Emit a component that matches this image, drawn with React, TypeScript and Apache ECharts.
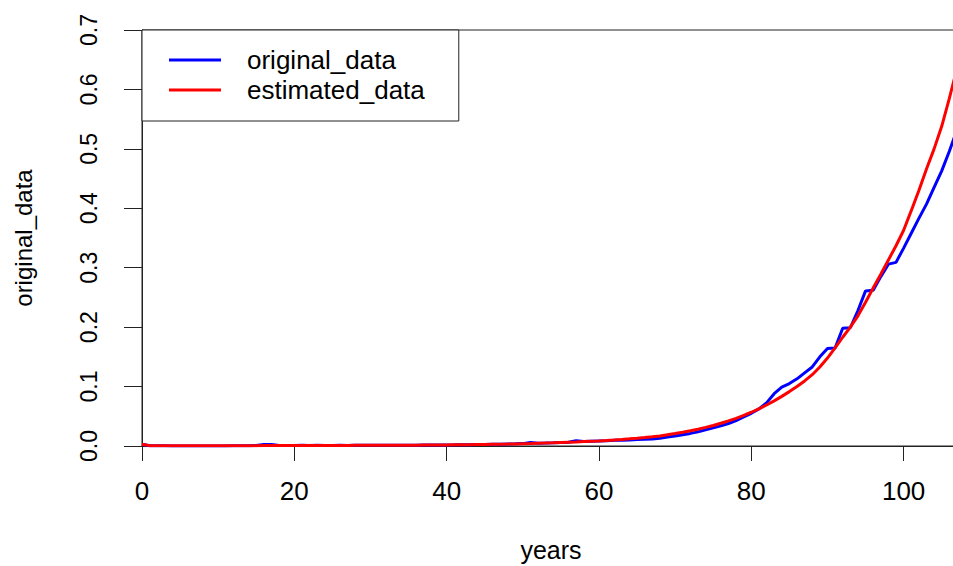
import React, { useEffect, useRef } from "react";
import * as echarts from "echarts";

const ages = [
  0, 1, 2, 3, 4, 5, 6, 7, 8, 9,
  10, 11, 12, 13, 14, 15, 16, 17, 18, 19,
  20, 21, 22, 23, 24, 25, 26, 27, 28, 29,
  30, 31, 32, 33, 34, 35, 36, 37, 38, 39,
  40, 41, 42, 43, 44, 45, 46, 47, 48, 49,
  50, 51, 52, 53, 54, 55, 56, 57, 58, 59,
  60, 61, 62, 63, 64, 65, 66, 67, 68, 69,
  70, 71, 72, 73, 74, 75, 76, 77, 78, 79,
  80, 81, 82, 83, 84, 85, 86, 87, 88, 89,
  90, 91, 92, 93, 94, 95, 96, 97, 98, 99,
  100, 101, 102, 103, 104, 105, 106, 107, 108, 109, 110,
];

const originalData = [
  0.0030, 0.0005, 0.0004, 0.0003, 0.0002, 0.0002, 0.0002, 0.0002, 0.0002, 0.0002,
  0.0002, 0.0002, 0.0003, 0.0004, 0.0005, 0.0008, 0.0026, 0.0026, 0.0009, 0.0010,
  0.0010, 0.0011, 0.0010, 0.0011, 0.0010, 0.0010, 0.0011, 0.0010, 0.0011, 0.0011,
  0.0011, 0.0012, 0.0012, 0.0012, 0.0013, 0.0014, 0.0014, 0.0015, 0.0016, 0.0017,
  0.0018, 0.0019, 0.0021, 0.0022, 0.0024, 0.0026, 0.0028, 0.0030, 0.0033, 0.0036,
  0.0040, 0.0058, 0.0046, 0.0049, 0.0053, 0.0058, 0.0063, 0.0088, 0.0074, 0.0079,
  0.0084, 0.0088, 0.0095, 0.0098, 0.0103, 0.0108, 0.0112, 0.0118, 0.0130, 0.0150,
  0.0168, 0.0190, 0.0212, 0.0238, 0.0272, 0.0305, 0.0338, 0.0378, 0.0428, 0.0488,
  0.0550, 0.0625, 0.0725, 0.0880, 0.0990, 0.1050, 0.1130, 0.1230, 0.1330, 0.1500,
  0.1640, 0.1650, 0.1980, 0.1990, 0.2280, 0.2610, 0.2620, 0.2850, 0.3060, 0.3090,
  0.3330, 0.3580, 0.3830, 0.4070, 0.4350, 0.4630, 0.4960, 0.5320, 0.5650, 0.6000, 0.6400,
];

const estimatedData = [
  0.0030, 0.0006, 0.0004, 0.0003, 0.0003, 0.0003, 0.0003, 0.0003, 0.0003, 0.0003,
  0.0003, 0.0003, 0.0004, 0.0004, 0.0005, 0.0006, 0.0007, 0.0008, 0.0009, 0.0009,
  0.0010, 0.0010, 0.0010, 0.0010, 0.0010, 0.0010, 0.0010, 0.0010, 0.0011, 0.0011,
  0.0011, 0.0011, 0.0012, 0.0012, 0.0013, 0.0013, 0.0014, 0.0015, 0.0016, 0.0017,
  0.0018, 0.0019, 0.0020, 0.0022, 0.0024, 0.0026, 0.0028, 0.0030, 0.0032, 0.0035,
  0.0038, 0.0041, 0.0045, 0.0049, 0.0053, 0.0058, 0.0063, 0.0068, 0.0074, 0.0080,
  0.0086, 0.0093, 0.0101, 0.0110, 0.0120, 0.0131, 0.0143, 0.0156, 0.0170, 0.0190,
  0.0210, 0.0232, 0.0256, 0.0283, 0.0313, 0.0346, 0.0382, 0.0422, 0.0466, 0.0515,
  0.0568, 0.0626, 0.0690, 0.0760, 0.0835, 0.0915, 0.1000, 0.1095, 0.1200, 0.1330,
  0.1480, 0.1650, 0.1830, 0.2000, 0.2190, 0.2420, 0.2660, 0.2890, 0.3130, 0.3370,
  0.3630, 0.3960, 0.4300, 0.4660, 0.5000, 0.5380, 0.5850, 0.6350, 0.6800, 0.7250, 0.7700,
];

const yTickLabels = ["0.0", "0.1", "0.2", "0.3", "0.4", "0.5", "0.6", "0.7"];
const seriesNames = ["original_data", "estimated_data"];
const seriesColors = ["#0000ff", "#ff0000"];
const xAxisTitle = "years";
const yAxisTitle = "original_data";

const FONT = "'Liberation Sans', Arial, Helvetica, sans-serif";
const AXIS_COLOR = "#222";

export default function App() {
  const ref = useRef<HTMLDivElement>(null);

  useEffect(() => {
    if (!ref.current) return;
    const chart = echarts.init(ref.current, undefined, { renderer: "svg" });
    const option = {
      animation: false,
      backgroundColor: "#fff",
      grid: {
        left: 142,
        top: 30,
        right: 5,
        bottom: 120,
        containLabel: false,
        outerBoundsMode: "none",
        show: true,
        borderColor: AXIS_COLOR,
        borderWidth: 1,
        backgroundColor: "transparent",
      },
      legend: {
        left: 142,
        top: 30,
        orient: "vertical",
        padding: [17, 34, 18, 27],
        itemGap: 4,
        itemWidth: 52,
        itemHeight: 3,
        icon: "rect",
        borderColor: AXIS_COLOR,
        borderWidth: 1,
        backgroundColor: "#fff",
        selectedMode: false,
        textStyle: {
          fontSize: 26,
          lineHeight: 26,
          color: "#000",
          fontFamily: FONT,
          padding: [0, 0, 0, 21],
        },
        data: seriesNames,
      },
      xAxis: {
        type: "value",
        min: 0,
        max: 107.4,
        interval: 20,
        name: xAxisTitle,
        nameLocation: "middle",
        nameGap: 93,
        nameTextStyle: { fontSize: 25, lineHeight: 22, color: "#000", fontFamily: FONT },
        axisLine: { show: true, lineStyle: { color: AXIS_COLOR, width: 1 } },
        axisTick: { show: true, length: 15, lineStyle: { color: AXIS_COLOR, width: 1 } },
        axisLabel: {
          fontSize: 26,
          margin: 32,
          color: "#000",
          fontFamily: FONT,
          showMaxLabel: false,
        },
        splitLine: { show: false },
      },
      yAxis: {
        type: "value",
        min: 0,
        max: 0.7,
        interval: 0.1,
        name: yAxisTitle,
        nameLocation: "middle",
        nameGap: 107,
        nameTextStyle: { fontSize: 24, color: "#000", fontFamily: FONT },
        axisLine: { show: true, lineStyle: { color: AXIS_COLOR, width: 1 } },
        axisTick: { show: true, length: 18, lineStyle: { color: AXIS_COLOR, width: 1 } },
        axisLabel: {
          rotate: 90,
          fontSize: 23,
          margin: 42,
          color: "#000",
          fontFamily: FONT,
          formatter: (v: number) => yTickLabels[Math.round(v * 10)] ?? v.toFixed(1),
        },
        splitLine: { show: false },
      },
      series: [
        {
          name: seriesNames[0],
          type: "line",
          data: ages.map((a, i) => [a, originalData[i]]),
          symbol: "none",
          clip: true,
          lineStyle: { color: seriesColors[0], width: 3 },
          itemStyle: { color: seriesColors[0] },
        },
        {
          name: seriesNames[1],
          type: "line",
          data: ages.map((a, i) => [a, estimatedData[i]]),
          symbol: "none",
          clip: true,
          lineStyle: { color: seriesColors[1], width: 3 },
          itemStyle: { color: seriesColors[1] },
        },
      ],
    };
    chart.setOption(option as any);
    return () => chart.dispose();
  }, []);

  return (
    <div
      style={{
        position: "fixed",
        left: 0,
        top: 0,
        width: 953,
        height: 566,
        overflow: "hidden",
        background: "#fff",
      }}
    >
      <div ref={ref} style={{ width: 965, height: 566 }} />
    </div>
  );
}
